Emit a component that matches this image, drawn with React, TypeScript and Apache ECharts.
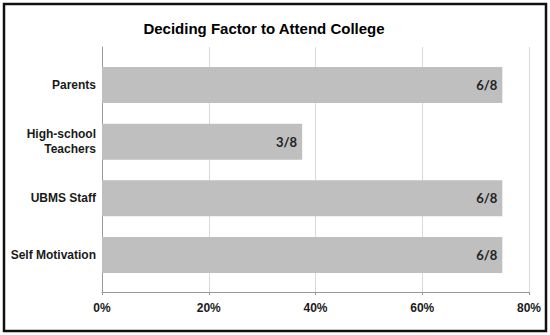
import React, { useEffect, useRef } from "react";
import * as echarts from "echarts";

const categories = ["Parents", "High-school\nTeachers", "UBMS Staff", "Self Motivation"];
const values = [75, 37.5, 75, 75];
const valueLabels = ["6/8", "3/8", "6/8", "6/8"];
const xTicks = [0, 20, 40, 60, 80];

export default function App() {
  const ref = useRef<HTMLDivElement>(null);
  useEffect(() => {
    if (!ref.current) return;
    const chart = echarts.init(ref.current, undefined, { renderer: "svg" });
    const axisFont = { fontFamily: "Liberation Sans, Arial, sans-serif", fontWeight: "bold" as const, fontSize: 12, color: "#1a1a1a" };
    chart.setOption({
      animation: false,
      backgroundColor: "#ffffff",
      title: {
        text: "Deciding Factor to Attend College",
        left: 259,
        top: 16,
        textAlign: "center",
        textStyle: { fontFamily: "Liberation Sans, Arial, sans-serif", fontWeight: "bold", fontSize: 15, color: "#000" },
      },
      graphic: [
        {
          type: "rect",
          shape: { x: 4, y: 4, width: 542, height: 327 },
          style: { fill: "none", stroke: "#111", lineWidth: 2.5 },
          silent: true,
          z: 100,
        },
      ],
      grid: [
        { left: 102, top: 47, width: 427, height: 245, containLabel: false },
        { left: 102, top: 56.7, width: 427, height: 226.6, containLabel: false },
      ],
      xAxis: [
        {
          gridIndex: 0,
          type: "value",
          min: 0,
          max: 80,
          interval: 20,
          axisLine: { show: true, lineStyle: { color: "#999", width: 1 } },
          axisTick: { show: true, length: 3, lineStyle: { color: "#999" } },
          splitLine: { show: true, lineStyle: { color: "#d9d9d9", width: 1 } },
          axisLabel: { ...axisFont, margin: 10, formatter: (v: number) => (xTicks.includes(v) ? v + "%" : "") },
        },
        {
          gridIndex: 1,
          type: "value",
          min: 0,
          max: 80,
          show: false,
        },
      ],
      yAxis: [
        {
          gridIndex: 0,
          type: "value",
          min: 0,
          max: 1,
          axisLine: { show: true, onZero: false, lineStyle: { color: "#999", width: 1 } },
          axisTick: { show: false },
          axisLabel: { show: false },
          splitLine: { show: false },
        },
        {
          gridIndex: 1,
          type: "category",
          data: categories,
          inverse: true,
          axisLine: { show: false },
          axisTick: { show: false },
          splitLine: { show: false },
          axisLabel: { ...axisFont, margin: 6, lineHeight: 15, align: "right" },
        },
      ],
      series: [
        {
          type: "bar",
          xAxisIndex: 1,
          yAxisIndex: 1,
          data: values,
          barWidth: 36,
          itemStyle: { color: "#bfbfbf" },
          label: {
            show: true,
            position: "insideRight",
            distance: 5,
            formatter: (p: any) => valueLabels[p.dataIndex],
            fontFamily: "Lato, Open Sans, sans-serif",
            fontWeight: "bold",
            fontSize: 13,
            color: "#222",
          },
        },
      ],
    });
    return () => chart.dispose();
  }, []);
  return <div ref={ref} style={{ position: "fixed", left: 0, top: 0, width: 550, height: 335 }} />;
}
